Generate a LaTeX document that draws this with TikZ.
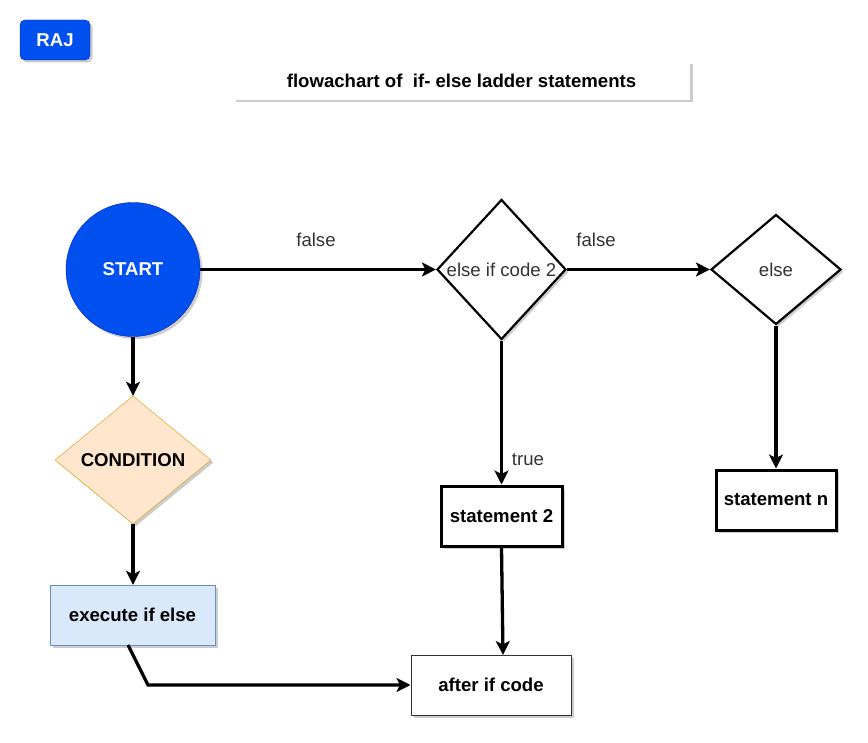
\documentclass[tikz,border=0pt]{standalone}
\usepackage{fontspec}
\setmainfont{Liberation Sans}
\usetikzlibrary{shapes.geometric, arrows.meta, shadows}

\definecolor{rajblue}{HTML}{0050EF}
\definecolor{rajedge}{HTML}{001DBC}
\definecolor{condfill}{HTML}{FFE6CC}
\definecolor{condedge}{HTML}{D79B00}
\definecolor{execfill}{HTML}{DAE8FC}
\definecolor{execedge}{HTML}{6C8EBF}
\definecolor{labelgray}{HTML}{333333}

\newcommand{\diafont}{\fontsize{18.6}{21}\selectfont}

\tikzset{
	softshadow/.style={drop shadow={shadow xshift=2.5pt, shadow yshift=-2.5pt, opacity=0.2, fill=black}},
	decision/.style={diamond, draw, line width=2.2pt, fill=white, inner sep=0pt, softshadow, font=\diafont, text=labelgray},
	stmtbox/.style={rectangle, draw, line width=3pt, fill=white, inner sep=0pt, softshadow, font=\bfseries\diafont},
	flow/.style={line width=3.3pt, -{Stealth[length=14pt, width=14pt, inset=3.5pt]}},
	edgelabel/.style={font=\diafont, text=labelgray}
}

\begin{document}
\begin{tikzpicture}[x=1pt, y=-1pt]
	\useasboundingbox (0,0) rectangle (868,743);

	\draw
		(55,40) node[rectangle, rounded corners=5pt, fill=rajblue, draw=rajedge, minimum width=70pt, minimum height=40pt, softshadow, text=white, font=\bfseries\diafont] (raj) {RAJ}
		(461.5,81) node[rectangle, fill=white, minimum width=457pt, minimum height=38pt, softshadow, font=\bfseries\diafont] (title) {flowachart of\ \ if- else ladder statements}

		(133,269.5) node[circle, fill=rajblue, draw=rajedge, minimum size=134pt, softshadow, text=white, font=\bfseries\diafont] (start) {START}
		(133,460) node[diamond, fill=condfill, draw=condedge, minimum width=156pt, minimum height=128pt, inner sep=0pt, softshadow, font=\bfseries\diafont] (cond) {CONDITION}
		(132.5,615) node[rectangle, fill=execfill, draw=execedge, minimum width=165pt, minimum height=60pt, softshadow, font=\bfseries\diafont] (exec) {execute if else}

		(501.5,269.5) node[decision, minimum width=129pt, minimum height=140pt] (elif) {else if code 2}
		(776,269.5) node[decision, minimum width=130pt, minimum height=110pt] (els) {else}

		(501.5,516) node[stmtbox, minimum width=121pt, minimum height=60pt] (stmt2) {statement 2}
		(776,500) node[stmtbox, minimum width=120pt, minimum height=60pt] (stmtn) {statement n}

		(491,685) node[rectangle, draw=black!80, line width=1pt, fill=white, minimum width=160pt, minimum height=60pt, softshadow, font=\bfseries\diafont] (after) {after if code};

	% bend points of the return line
	\coordinate (execout) at (128,645);
	\coordinate (bend) at (148,685);
	\coordinate (afterin) at (503,655);

	\draw[flow] (start.south) -- (cond.north);
	\draw[flow] (cond.south) -- (cond.south |- exec.north);
	\draw[flow] (execout) -- (bend) -- (after.west);

	\draw[flow] (start.east) -- (elif.west);
	\draw[flow] (elif.east) -- (els.west);
	\draw[flow] (elif.south) -- (stmt2.north);
	\draw[flow] (els.south) -- (stmtn.north);
	\draw[flow] (stmt2.south) -- (afterin);

	\node[edgelabel] (f1) at (316,240) {false};
	\node[edgelabel] (f2) at (596,240) {false};
	\node[edgelabel] (t1) at (528,460) {true};
\end{tikzpicture}
\end{document}
